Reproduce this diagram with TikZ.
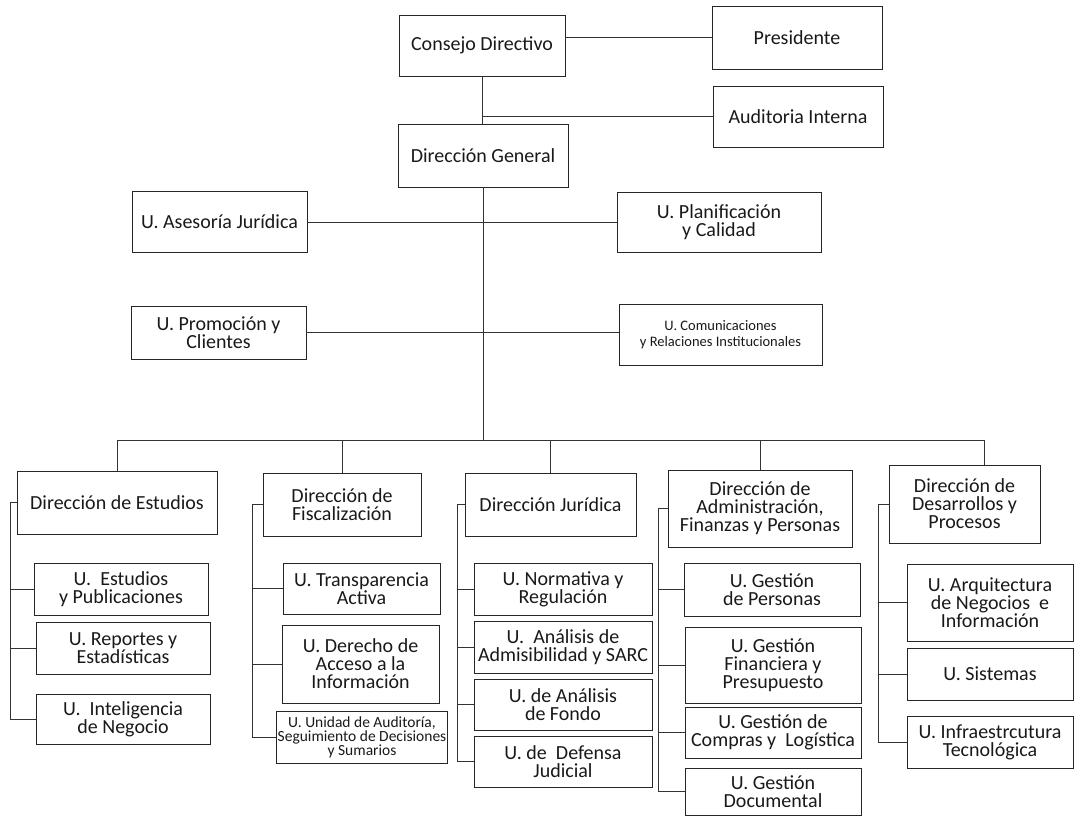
\documentclass[tikz,border=0pt]{standalone}
\usepackage{fontspec}
\setmainfont{Carlito}
\usetikzlibrary{calc}

\begin{document}
\begin{tikzpicture}[x=1pt,y=-1pt,
  unit/.style={draw=black!85,line width=0.9pt,align=center,inner sep=1pt,font=\fontsize{20}{18}\selectfont,text=black!90},
  conn/.style={draw=black!80,line width=0.8pt}
]
\useasboundingbox (0,0) rectangle (1075,816);

\node[unit,minimum width=166pt,minimum height=61pt] (cd) at (482,45.5) {Consejo Directivo};
\node[unit,minimum width=170pt,minimum height=63pt] (pres) at (797,37.5) {Presidente};
\node[unit,minimum width=170pt,minimum height=61pt] (aud) at (798,116.5) {Auditoria Interna};
\node[unit,minimum width=170pt,minimum height=63pt] (dg) at (483,155.5) {Dirección General};

\node[unit,minimum width=175pt,minimum height=61pt] (ase) at (219.5,222) {U. Asesoría Jurídica};
\node[unit,minimum width=204pt,minimum height=60pt] (pla) at (719,222) {U. Planificación\\y Calidad};
\node[unit,minimum width=175pt,minimum height=53pt] (pro) at (218.5,332.5) {U. Promoción y\\Clientes};
\node[unit,minimum width=203pt,minimum height=61pt,font=\fontsize{14.5}{16}\selectfont] (com) at (720.5,334.5) {U. Comunicaciones\\y Relaciones Institucionales};

\node[unit,minimum width=200pt,minimum height=63pt] (dest) at (117,502.5) {Dirección de Estudios};
\node[unit,minimum width=174pt,minimum height=52pt] (est1) at (121,589) {U.\ \ Estudios\\y Publicaciones};
\node[unit,minimum width=174pt,minimum height=52pt] (est2) at (123,648) {U. Reportes y\\Estadísticas};
\node[unit,minimum width=174pt,minimum height=50pt] (est3) at (123,719) {U.\ \ Inteligencia\\de Negocio};

\node[unit,minimum width=158pt,minimum height=63pt] (dfis) at (342,504.5) {Dirección de\\Fiscalización};
\node[unit,minimum width=157pt,minimum height=51pt] (fis1) at (361.5,588.5) {U. Transparencia\\Activa};
\node[unit,minimum width=157pt,minimum height=78pt] (fis2) at (360.5,664) {U. Derecho de\\Acceso a la\\Información};
\node[unit,minimum width=166pt,minimum height=52pt,font=\fontsize{15.5}{14}\selectfont] (fis3) at (362,737) {U. Unidad de Auditoría,\\Seguimiento de Decisiones\\y Sumarios};

\node[unit,minimum width=171pt,minimum height=63pt] (djur) at (550.5,504.5) {Dirección Jurídica};
\node[unit,minimum width=178pt,minimum height=52pt] (jur1) at (563,589) {U. Normativa y\\Regulación};
\node[unit,minimum width=178pt,minimum height=52pt] (jur2) at (563,647) {U.\ \ Análisis de\\Admisibilidad y SARC};
\node[unit,minimum width=178pt,minimum height=51pt] (jur3) at (563,704.5) {U. de Análisis\\de Fondo};
\node[unit,minimum width=178pt,minimum height=51pt] (jur4) at (563,761.5) {U. de\ \ Defensa\\Judicial};

\node[unit,minimum width=184pt,minimum height=77pt] (dadm) at (760,508.5) {Dirección de\\Administración,\\Finanzas y Personas};
\node[unit,minimum width=176pt,minimum height=53pt] (adm1) at (772,589.5) {U. Gestión\\de Personas};
\node[unit,minimum width=176pt,minimum height=76pt] (adm2) at (773,665) {U. Gestión\\Financiera y\\Presupuesto};
\node[unit,minimum width=176pt,minimum height=51pt] (adm3) at (773,732.5) {U. Gestión de\\Compras y\ \ Logística};
\node[unit,minimum width=176pt,minimum height=47pt] (adm4) at (773,791.5) {U. Gestión\\Documental};

\node[unit,minimum width=151pt,minimum height=78pt] (ddes) at (964.5,504) {Dirección de\\Desarrollos y\\Procesos};
\node[unit,minimum width=166pt,minimum height=77pt] (des1) at (990,602.5) {U. Arquitectura\\de Negocios\ \ e\\Información};
\node[unit,minimum width=166pt,minimum height=52pt] (des2) at (990,674) {U. Sistemas};
\node[unit,minimum width=166pt,minimum height=52pt] (des3) at (990,742) {U. Infraestrcutura\\Tecnológica};

\coordinate (bus) at (480,440);

\draw[conn] (pres.west -| cd.east) -- (pres.west);
\draw[conn] (cd.south) -- (cd.south |- dg.north);
\draw[conn] (aud.west) -- (aud.west -| cd.south);
\draw[conn] (ase.east) -- (pla.west);
\draw[conn] (pro.east) -- (pro.east -| com.west);
\draw[conn] (dg.south) -- (dg.south |- bus);
\draw[conn] (dest.north) |- ([xshift=20pt]ddes.north |- bus) -- ([xshift=20pt]ddes.north);
\foreach \n in {dfis,djur,dadm}
  \draw[conn] (\n.north) -- (\n.north |- bus);

\foreach \u in {est1,est2,est3}
  \draw[conn] (dest.west) -- ++(-6,0) |- (\u.west);
\foreach \u in {fis1,fis2,fis3}
  \draw[conn] (dfis.west) -- ++(-10,0) |- (\u.west);
\foreach \u in {jur1,jur2,jur3,jur4}
  \draw[conn] (djur.west) -- ++(-7,0) |- (\u.west);
\foreach \u in {adm1,adm2,adm3,adm4}
  \draw[conn] (dadm.west) -- ++(-9,0) |- (\u.west);
\foreach \u in {des1,des2,des3}
  \draw[conn] (ddes.west) -- ++(-10,0) |- (\u.west);
\end{tikzpicture}
\end{document}
